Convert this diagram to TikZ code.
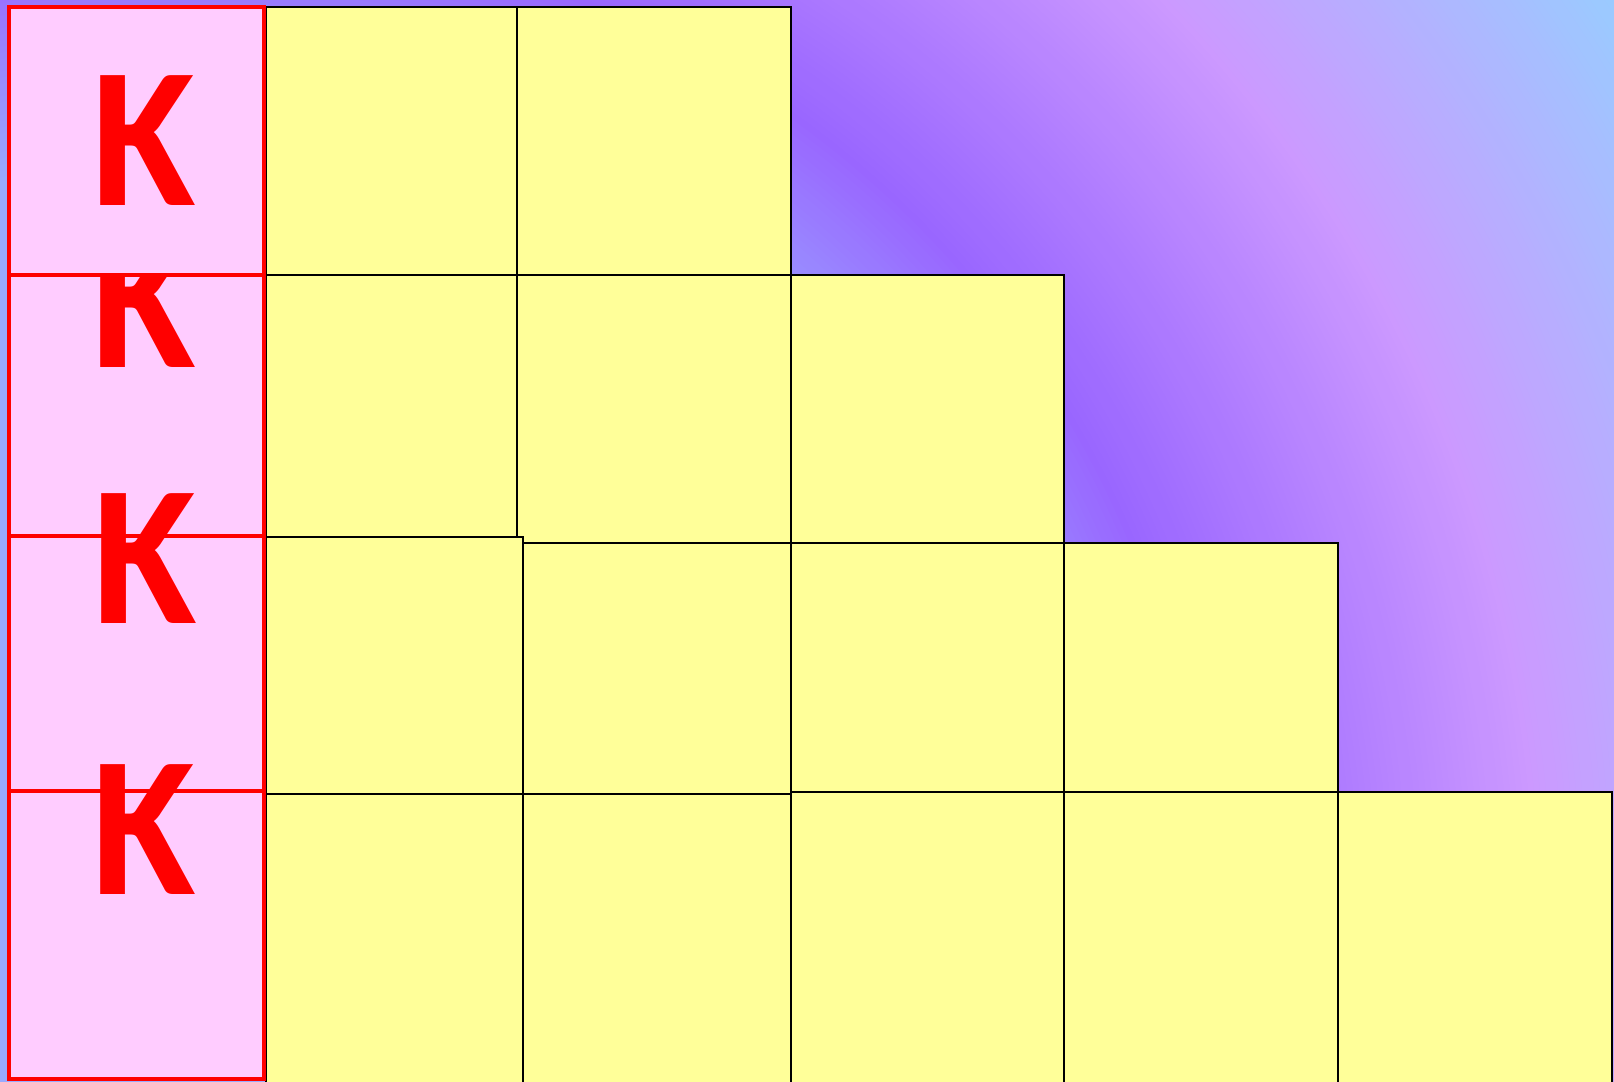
\documentclass[tikz,border=0pt]{standalone}
\usepackage{fontspec}
\usepackage{graphicx}
\newfontfamily\kapfont{Lato}
\definecolor{cellyellow}{HTML}{FFFF99}
\definecolor{boxpink}{HTML}{FFCCFF}
\definecolor{glowblue}{HTML}{99CCFF}
\definecolor{glowpink}{HTML}{CC99FF}
\definecolor{glowviolet}{HTML}{9966FF}
\definecolor{glowsky}{HTML}{99AAFF}
\newcommand{\kap}{\scalebox{.79}[1]{κ}}
\tikzset{
  cell/.style={draw=black, fill=cellyellow, line width=.6pt},
  pinkbox/.style={draw=red, fill=boxpink, line width=1.3pt},
  kaplabel/.style={anchor=base, inner sep=0pt, text=red, font=\kapfont\bfseries\fontsize{72}{72}\selectfont}
}
\begin{document}
\begin{tikzpicture}[x=0.01cm, y=-0.01cm, line join=miter]
	\useasboundingbox (0,0) rectangle (1614,1081);
	% background glow, rings round (220,920)
	\begin{scope}
	\clip (0,0) rectangle (1614,1081);
	\fill[glowblue] (220,920) circle (1800);
	\foreach \r in {1680,1674,...,1320} {
		\pgfmathsetmacro\p{(\r-1320)/3.6}
		\fill[glowblue!\p!glowpink] (220,920) circle (\r);
	}
	\foreach \r in {1320,1314,...,990} {
		\pgfmathsetmacro\p{(\r-990)/3.3}
		\fill[glowpink!\p!glowviolet] (220,920) circle (\r);
	}
	\foreach \r in {990,984,...,770} {
		\pgfmathsetmacro\p{(990-\r)/2.2}
		\fill[glowsky!\p!glowviolet] (220,920) circle (\r);
	}
	\fill[glowsky] (220,920) circle (770);
	\end{scope}
	% staircase of cells, row by row
	\foreach \xa/\ya/\xb/\yb in {266/7/517/275, 517/7/791/275,
		266/275/517/537, 517/275/791/543, 791/275/1064/543,
		266/537/523/794, 523/543/791/794, 791/543/1064/792, 1064/543/1338/792,
		266/794/523/1095, 523/794/791/1095, 791/792/1064/1095, 1064/792/1338/1095, 1338/792/1612/1095}
	\draw[cell] (\xa,\ya) rectangle (\xb,\yb);
	% left column
	\draw[pinkbox] (9,275) rectangle (264,536);
	\node[kaplabel] (k2) at (142,367) {\kap};
	\draw[pinkbox] (9,7) rectangle (264,275);
	\node[kaplabel] (k1) at (142,205) {\kap};
	\draw[pinkbox] (9,536) rectangle (264,791);
	\node[kaplabel] (k3) at (143,623) {\kap};
	\draw[pinkbox] (9,791) rectangle (264,1079);
	\node[kaplabel] (k4) at (142,894) {\kap};
\end{tikzpicture}
\end{document}
